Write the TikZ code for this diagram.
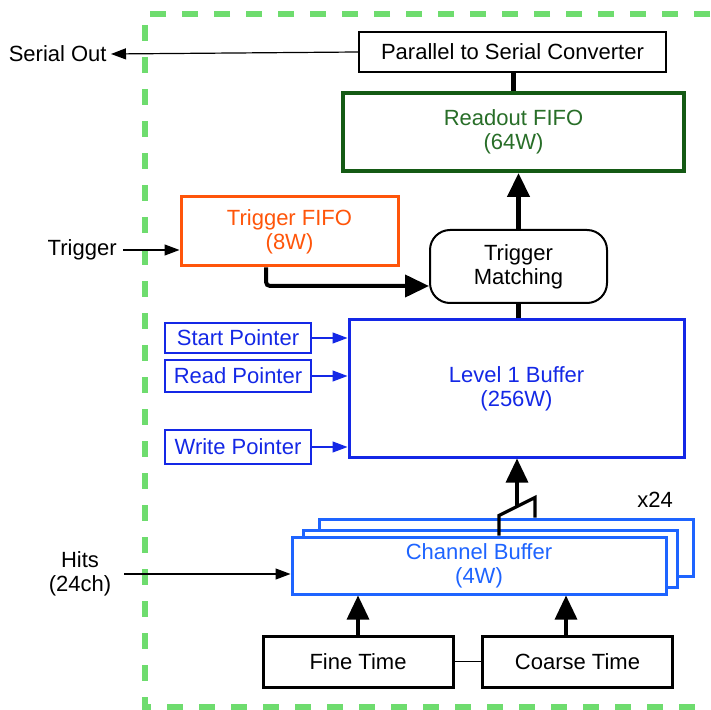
\documentclass[tikz,border=0pt]{standalone}
\usepackage{fontspec}
\setmainfont{Liberation Sans}
\usetikzlibrary{arrows.meta, calc, positioning}
\definecolor{fifogreen}{RGB}{20,90,20}
\definecolor{fifotext}{RGB}{40,110,40}
\definecolor{trigorange}{RGB}{255,85,10}
\definecolor{bufblue}{RGB}{20,40,230}
\definecolor{chblue}{RGB}{30,100,255}
\definecolor{chiplime}{RGB}{110,220,110}
\tikzstyle{block} = [draw, rectangle, fill=white, align=center, inner sep=0pt]
\tikzstyle{ptr} = [block, draw=bufblue, text=bufblue, line width=0.75pt,
    minimum width=73pt]
\tikzstyle{chbox} = [block, draw=chblue, line width=1.5pt, minimum width=187pt,
    minimum height=28.5pt]
\tikzstyle{timebox} = [block, line width=1.5pt, minimum width=95pt,
    minimum height=25.5pt]
\tikzstyle{arrow} = [-{Triangle[length=7.5pt, width=5.5pt]}, line width=0.6pt, black]
\tikzstyle{ptrarrow} = [arrow, draw=bufblue, fill=bufblue]
\tikzstyle{bus} = [line width=2.2pt, black]
\tikzstyle{busarrow} = [bus, -{Triangle[length=12pt, width=11pt]}]
\tikzstyle{link} = [line width=1.6pt, black, -{Triangle[length=12pt, width=11pt]}]
\tikzstyle{boundary} = [chiplime, line width=3pt, dash pattern=on 8pt off 8pt]

\begin{document}
\begin{tikzpicture}[x=0.5pt, y=-0.5pt, font=\fontsize{11}{12}\selectfont]
  \useasboundingbox (0,0) rectangle (710,710);
  % Chip boundary
  \draw [boundary] (710,14) -- (145,14) -- (145,707) -- (710,707);

  % Place the blocks
  \node [block, line width=1pt, minimum width=153.5pt, minimum height=20pt]
    (psc) at (512.5,52) {Parallel to Serial Converter};
  \node [block, draw=fifogreen, text=fifotext, line width=2pt,
    minimum width=170.5pt, minimum height=39pt] (rofifo) at (513.5,132)
    {Readout FIFO\\(64W)};
  \node [block, draw=trigorange, text=trigorange, line width=1.5pt,
    minimum width=108.5pt, minimum height=34.5pt] (tfifo) at (289.5,231.5)
    {Trigger FIFO\\(8W)};
  \node [block, line width=1pt, rounded corners=10pt, minimum width=88.5pt,
    minimum height=36.5pt] (tmatch) at (518.5,266.5) {Trigger\\Matching};
  \node [block, draw=bufblue, text=bufblue, line width=1.5pt,
    minimum width=167.5pt, minimum height=68.5pt] (l1buf) at (516.5,388.5)
    {Level 1 Buffer\\(256W)};
  \node [ptr, minimum height=15pt] (startp) at (238,338) {Start Pointer};
  \node [ptr, minimum height=16pt] (readp) at (238,376) {Read Pointer};
  \node [ptr, minimum height=17pt] (writep) at (238,447) {Write Pointer};
  \node [chbox] (chbufc) at (506,547.5) {};
  \node [chbox] (chbufb) at (490,558.5) {};
  \node [chbox, text=chblue] (chbuf) at (479,565.5) {Channel Buffer\\(4W)};
  \node [timebox] (finet) at (358,661.5) {Fine Time};
  \node [timebox] (coarset) at (577.5,661.5) {Coarse Time};

  % Outside labels
  \node [anchor=east, inner sep=0pt] (serial) at (107,54) {Serial Out};
  \node [anchor=east, inner sep=0pt] (trig) at (117,250) {Trigger};
  \node [align=center] (hits) at (80,574) {Hits\\(24ch)};
  \node (x24) at (655,500) {x24};

  % Connect the nodes
  \draw [arrow] (psc.west) -- ([xshift=2pt]serial.east);
  \draw [bus] (rofifo.north) -- (rofifo.north |- psc.south);
  \draw [busarrow] (tmatch.north) -- (tmatch.north |- rofifo.south);
  \draw [bus] (tmatch.south |- l1buf.north) -- (tmatch.south);
  \draw [arrow] ([xshift=3pt]trig.east) -- (trig.east -| tfifo.west);
  \draw [busarrow, line width=2pt, rounded corners=2pt]
    ([xshift=-11.75pt]tfifo.south) |- ([yshift=-9.75pt]tmatch.west);
  \foreach \p in {startp, readp, writep}
    \draw [ptrarrow] (\p.east) -- (\p.east -| l1buf.west);
  \draw [arrow] ([xshift=3pt]hits.east) -- (hits.east -| chbuf.west);
  \draw [link] (finet.north) -- (finet.north |- chbuf.south);
  \draw [link] ([xshift=-5.75pt]coarset.north)
    -- ([xshift=-5.75pt]coarset.north |- chbuf.south);
  \draw [line width=0.6pt] (finet.east) -- (coarset.west);
  \draw [line width=1.6pt] ([xshift=10pt]chbuf.north) -- ++(0,-20)
    -- coordinate (merge) ++(36,-18) -- ++(0,20);
  \draw [link] (merge) -- (merge |- l1buf.south);
\end{tikzpicture}
\end{document}
